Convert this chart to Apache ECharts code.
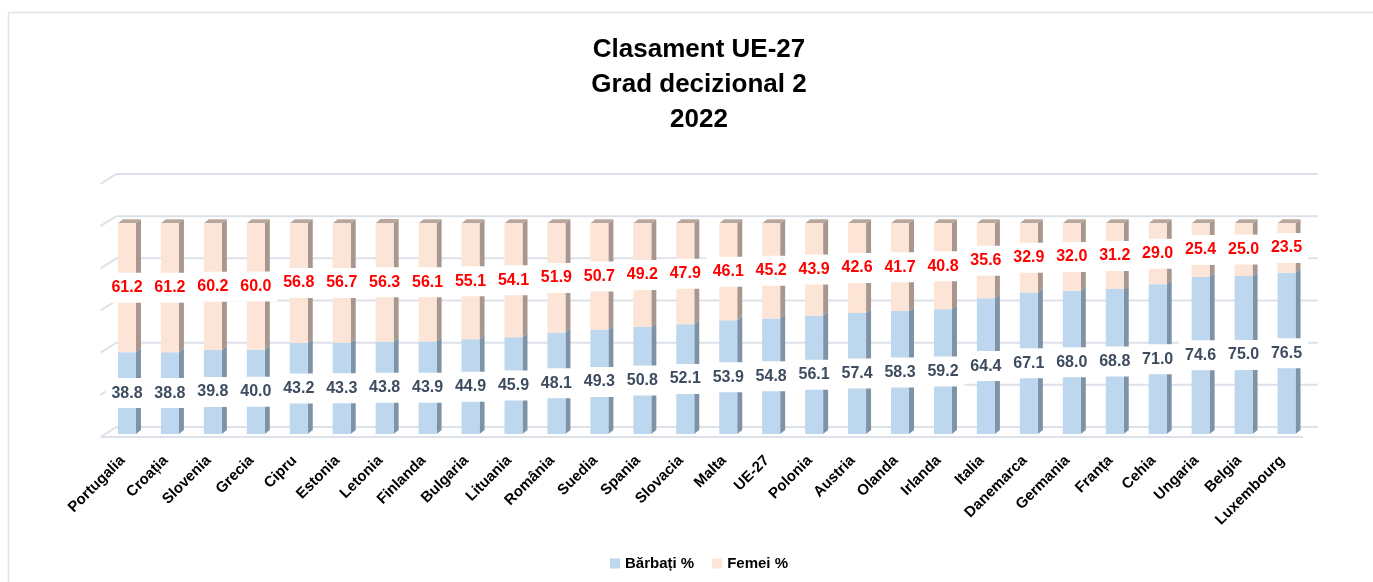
<!DOCTYPE html>
<html><head><meta charset="utf-8">
<script src="https://cdn.jsdelivr.net/npm/echarts@6/dist/echarts.min.js"></script>
<style>html,body{margin:0;padding:0;background:#fff}#c{width:1373px;height:582px}</style>
</head><body><div id="c"></div>
<script>
const categories = ['Portugalia','Croația','Slovenia','Grecia','Cipru','Estonia','Letonia','Finlanda','Bulgaria','Lituania','România','Suedia','Spania','Slovacia','Malta','UE-27','Polonia','Austria','Olanda','Irlanda','Italia','Danemarca','Germania','Franța','Cehia','Ungaria','Belgia','Luxembourg'];
const barbati = [38.8,38.8,39.8,40.0,43.2,43.3,43.8,43.9,44.9,45.9,48.1,49.3,50.8,52.1,53.9,54.8,56.1,57.4,58.3,59.2,64.4,67.1,68.0,68.8,71.0,74.6,75.0,76.5];
const femei = [61.2,61.2,60.2,60.0,56.8,56.7,56.3,56.1,55.1,54.1,51.9,50.7,49.2,47.9,46.1,45.2,43.9,42.6,41.7,40.8,35.6,32.9,32.0,31.2,29.0,25.4,25.0,23.5];
const gridTicks = [0,20,40,60,80,100,120];
const seriesNames = ['Bărbați %','Femei %'];
const titleLines = ['Clasament UE-27','Grad decizional 2','2022'];

const FONT = 'Liberation Sans';
const BW = 18, DX = 5, DY = 4;
const GRID_COLOR = '#dde2ea';

function sideItem(params, api){
  const i = api.value(0), lo = api.value(1), hi = api.value(2), kind = api.value(3);
  const pLo = api.coord([i, lo]), pHi = api.coord([i, hi]);
  const x1 = pLo[0] - BW/2, x2 = pLo[0] + BW/2;
  const children = [{type:'polygon', shape:{points:[[x2,pHi[1]],[x2+DX,pHi[1]-DY],[x2+DX,pLo[1]-DY],[x2,pLo[1]]]}, style:{fill: kind===0 ? '#7f93a7' : '#a8978e'}}];
  if (kind === 1) children.push({type:'polygon', shape:{points:[[x1,pHi[1]],[x2,pHi[1]],[x2+DX,pHi[1]-DY],[x1+DX,pHi[1]-DY]]}, style:{fill:'#b9a79d'}});
  return {type:'group', children};
}
function gridItem(params, api){
  const v = api.value(1);
  const cs = params.coordSys;
  const y = api.coord([0, v])[1] - 7;
  const L = cs.x, R = cs.x + cs.width;
  const ch = [{type:'polyline', shape:{points:[[L-5,y+10],[L+11,y],[R+10,y]]}, style:{stroke:GRID_COLOR, lineWidth:2, fill:null}}];
  if (v === 0) ch.push({type:'line', shape:{x1:L-5,y1:y+10,x2:R-5,y2:y+10}, style:{stroke:GRID_COLOR, lineWidth:2}});
  return {type:'group', children: ch};
}

const sideData = [];
categories.forEach((c, i) => {
  sideData.push([i, 0, barbati[i], 0]);
  sideData.push([i, barbati[i], barbati[i] + femei[i], 1]);
});

const labelBase = {show:true, position:'inside', fontFamily:FONT, fontWeight:'bold', fontSize:16, lineHeight:17, backgroundColor:'#fff', padding:[7,6,6,6], formatter: p => Number(p.value).toFixed(1)};

const chart = echarts.init(document.getElementById('c'));
chart.setOption({
  animation:false,
  backgroundColor:'#fff',
  graphic:[{type:'rect', shape:{x:8.5, y:12.5, width:1400, height:600}, style:{fill:null, stroke:'#dfe3ea', lineWidth:1.5}, z:-10}],
  title:{text:titleLines.join('\n'), left:694, top:27, textAlign:'center', textStyle:{fontFamily:FONT, fontWeight:'bold', fontSize:26, lineHeight:35, color:'#000'}},
  legend:{data:seriesNames, bottom:6, left:605, icon:'rect', itemWidth:10, itemHeight:10, itemGap:18, textStyle:{fontFamily:FONT, fontWeight:'bold', fontSize:15, color:'#000'}},
  grid:{left:105.5, right:65, top:181, bottom:148, containLabel:false},
  xAxis:{type:'category', data:categories, axisLine:{show:false}, axisTick:{show:false}, axisLabel:{rotate:45, margin:20, padding:[0,6,0,0], interval:0, fontFamily:FONT, fontWeight:'bold', fontSize:15, color:'#000'}},
  yAxis:{type:'value', min:0, max:120, interval:20, show:false, splitLine:{show:false}},
  series:[
    {type:'custom', renderItem:gridItem, data:gridTicks.map(v => [0, v]), z:0, silent:true, clip:false},
    {type:'custom', renderItem:sideItem, data:sideData, z:1, silent:true, clip:false},
    {name:seriesNames[0], type:'bar', stack:'t', barWidth:BW, data:barbati, itemStyle:{color:'#bdd7ee'}, z:3, label:Object.assign({}, labelBase, {color:'#3e4c60'})},
    {name:seriesNames[1], type:'bar', stack:'t', barWidth:BW, data:femei, itemStyle:{color:'#fce4d6'}, z:3, label:Object.assign({}, labelBase, {color:'#ff0000'})}
  ]
});
</script></body></html>
